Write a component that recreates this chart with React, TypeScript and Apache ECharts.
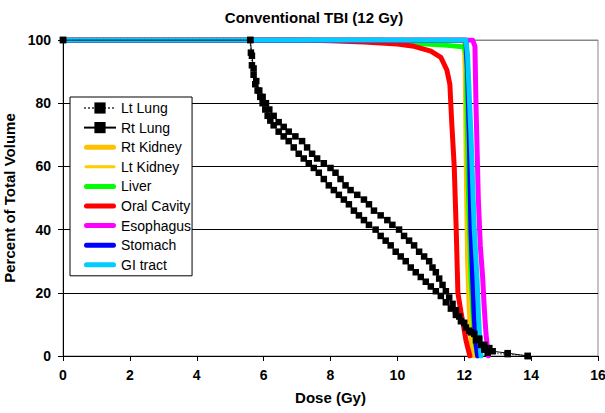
import React, { useEffect, useRef } from "react";
import * as echarts from "echarts";

const TITLE = "Conventional TBI (12 Gy)";
const X_NAME = "Dose (Gy)";
const Y_NAME = "Percent of Total Volume";

const ltLung: number[][] = [
  [0, 100], [5.6, 100], [5.62, 96], [5.65, 92], [5.7, 89], [5.75, 86], [5.82, 84], [5.9, 82],
  [5.97, 80], [6.05, 78], [6.12, 76], [6.2, 74.5], [6.3, 73], [6.45, 71], [6.6, 69.5],
  [6.75, 68], [6.9, 66], [7.05, 64], [7.2, 62.5], [7.35, 61], [7.5, 59.5], [7.65, 58],
  [7.8, 56], [7.95, 54], [8.1, 52.5], [8.25, 51], [8.4, 49.5], [8.55, 48], [8.7, 46],
  [8.85, 44.5], [9.0, 43], [9.15, 41.5], [9.35, 40], [9.5, 38], [9.65, 36.5], [9.8, 35],
  [9.95, 33], [10.1, 31.5], [10.25, 30], [10.4, 28], [10.55, 26.5], [10.7, 25], [10.85, 23.5],
  [11.0, 22], [11.15, 20.5], [11.3, 19], [11.45, 17], [11.6, 15], [11.75, 13], [11.9, 11],
  [12.05, 9], [12.2, 7.5], [12.35, 5], [12.5, 3.5], [12.6, 2], [12.7, 1], [13.3, 0.6], [13.9, 0],
];

const rtLung: number[][] = [
  [0, 100], [5.6, 100], [5.65, 95], [5.7, 91], [5.78, 87], [5.87, 84], [5.97, 82], [6.07, 80],
  [6.17, 78], [6.3, 76], [6.45, 74], [6.6, 72.5], [6.75, 71], [6.95, 69.5], [7.15, 68],
  [7.3, 66], [7.45, 64], [7.6, 62.5], [7.8, 61], [8.0, 59.5], [8.15, 58], [8.3, 56],
  [8.45, 54], [8.6, 52.5], [8.8, 51], [9.0, 49.5], [9.15, 48], [9.3, 46], [9.5, 44.5],
  [9.7, 43], [9.85, 41.5], [10.05, 40], [10.2, 38], [10.35, 36.5], [10.5, 35], [10.65, 33],
  [10.8, 31.5], [10.95, 30], [11.05, 28], [11.15, 26.5], [11.25, 24.5], [11.35, 22.5],
  [11.45, 20.5], [11.55, 18.5], [11.65, 16.5], [11.75, 14.5], [11.85, 12.5], [12.0, 10.5],
  [12.15, 8], [12.3, 7], [12.45, 5.5], [12.6, 3.5], [12.75, 2.5], [12.85, 1.5], [13.3, 0.9], [13.9, 0],
];

const rtKidney: number[][] = [
  [0, 100], [12.0, 100], [12.03, 90], [12.06, 60], [12.1, 30], [12.15, 15], [12.2, 6], [12.25, 1.5], [12.28, 0],
];
const ltKidney: number[][] = [
  [0, 100], [12.0, 100], [12.03, 90], [12.07, 60], [12.12, 30], [12.17, 15], [12.22, 6], [12.27, 1.5], [12.3, 0],
];
const liver: number[][] = [
  [0, 100], [9.5, 100], [10.5, 99], [11.5, 98.3], [12.0, 97.8], [12.06, 95], [12.08, 80],
  [12.13, 50], [12.2, 25], [12.28, 10], [12.35, 3], [12.4, 0],
];
const oralCavity: number[][] = [
  [0, 100], [7, 100], [8, 99.8], [9, 99.4], [10, 98.7], [10.5, 98], [11.0, 96.5], [11.3, 94.5],
  [11.48, 90.5], [11.57, 86], [11.62, 75], [11.7, 60], [11.76, 40], [11.81, 20], [11.9, 14],
  [11.97, 10], [12.05, 5], [12.12, 2], [12.17, 0],
];
const esophagus: number[][] = [
  [0, 100], [12.25, 100], [12.32, 98], [12.35, 80], [12.42, 50], [12.48, 35], [12.55, 25],
  [12.6, 15], [12.65, 7], [12.7, 2], [12.72, 0],
];
const stomach: number[][] = [
  [0, 100], [12.05, 100], [12.1, 90], [12.15, 70], [12.2, 40], [12.25, 25], [12.3, 12], [12.35, 4], [12.4, 0],
];
const giTract: number[][] = [
  [0, 100], [12.05, 100], [12.1, 95], [12.2, 70], [12.3, 40], [12.38, 25], [12.43, 12], [12.47, 4], [12.5, 0],
];

const FONT = "Arial, 'Liberation Sans', Helvetica, sans-serif";
const BAR_ICON =
  "path://M0,0M32,14M2.5,4.5L29.5,4.5A2.5,2.5,0,0,1,29.5,9.5L2.5,9.5A2.5,2.5,0,0,1,2.5,4.5Z";
const THIN_ICON =
  "path://M0,0M32,14M2,5.5L30,5.5A1.5,1.5,0,0,1,30,8.5L2,8.5A1.5,1.5,0,0,1,2,5.5Z";

export default function App() {
  const ref = useRef<HTMLDivElement>(null);
  useEffect(() => {
    if (!ref.current) return;
    const chart = echarts.init(ref.current, null, { renderer: "svg" });
    const smoothLine = (name: string, data: number[][], color: string, width: number) => ({
      name,
      type: "line",
      data,
      showSymbol: false,
      symbol: "none",
      lineStyle: { color, width, cap: "round", join: "round" },
      itemStyle: { color },
      z: 2,
    });
    const lung = (name: string, data: number[][], lineColor: string, type: string, width: number) => ({
      name,
      type: "line",
      data,
      symbol: "rect",
      symbolSize: 6.5,
      showSymbol: true,
      lineStyle: { color: lineColor, width, type },
      itemStyle: { color: "#000", borderWidth: 0 },
      z: 4,
    });
    chart.setOption({
      animation: false,
      textStyle: { fontFamily: FONT },
      title: {
        text: TITLE,
        left: 309,
        textAlign: "center",
        top: 5,
        textStyle: { fontFamily: FONT, fontSize: 15, fontWeight: "bold", color: "#000" },
      },
      grid: {
        left: 63,
        right: 7,
        top: 40,
        bottom: 57,
        containLabel: false,
        outerBoundsMode: "none",
        show: true,
        borderColor: "#888",
        borderWidth: 1,
        backgroundColor: "#fff",
      },
      legend: {
        orient: "vertical",
        left: 70,
        top: 97,
        padding: [4, 1, 4, 13],
        itemWidth: 32,
        itemHeight: 14,
        itemGap: 5.6,
        backgroundColor: "#fff",
        borderColor: "#000",
        borderWidth: 1,
        borderRadius: 0,
        textStyle: { fontFamily: FONT, fontSize: 14, color: "#000", lineHeight: 14 },
        data: [
          { name: "Lt Lung" },
          { name: "Rt Lung" },
          { name: "Rt Kidney", icon: BAR_ICON },
          { name: "Lt Kidney", icon: THIN_ICON },
          { name: "Liver", icon: BAR_ICON },
          { name: "Oral Cavity", icon: BAR_ICON },
          { name: "Esophagus", icon: BAR_ICON },
          { name: "Stomach", icon: BAR_ICON },
          { name: "GI tract", icon: BAR_ICON },
        ],
      },
      xAxis: {
        type: "value",
        min: 0,
        max: 16,
        interval: 2,
        name: X_NAME,
        nameLocation: "middle",
        nameGap: 34,
        nameTextStyle: { fontFamily: FONT, fontSize: 15, fontWeight: "bold", color: "#000" },
        axisLine: { show: true, onZero: false, lineStyle: { color: "#000", width: 1 } },
        axisTick: { show: true, inside: false, length: 5, lineStyle: { color: "#000" } },
        axisLabel: { fontFamily: FONT, fontSize: 14, fontWeight: "bold", color: "#000", margin: 12 },
        splitLine: { show: false },
      },
      yAxis: {
        type: "value",
        min: 0,
        max: 100,
        interval: 20,
        name: Y_NAME,
        nameLocation: "middle",
        nameGap: 35,
        nameTextStyle: { fontFamily: FONT, fontSize: 15, fontWeight: "bold", color: "#000" },
        axisLine: { show: true, onZero: false, lineStyle: { color: "#000", width: 1 } },
        axisTick: { show: true, inside: false, length: 5, lineStyle: { color: "#000" } },
        axisLabel: { fontFamily: FONT, fontSize: 14, fontWeight: "bold", color: "#000", margin: 12 },
        splitLine: {
          show: true,
          lineStyle: { color: ["#000", "#000", "#000", "#000", "#000", "#888"], width: 1 },
        },
      },
      series: [
        lung("Lt Lung", ltLung, "#666", "dotted", 1.5),
        lung("Rt Lung", rtLung, "#000", "solid", 1),
        smoothLine("Rt Kidney", rtKidney, "#FFC000", 5),
        smoothLine("Lt Kidney", ltKidney, "#FFCC00", 3),
        smoothLine("Liver", liver, "#00FF00", 5),
        smoothLine("Oral Cavity", oralCavity, "#FF0000", 5),
        smoothLine("Esophagus", esophagus, "#FF00FF", 5),
        smoothLine("Stomach", stomach, "#0000FF", 5),
        smoothLine("GI tract", giTract, "#00CCFF", 5),
      ],
    });
    return () => chart.dispose();
  }, []);
  return (
    <div
      ref={ref}
      style={{ position: "absolute", left: 0, top: 0, width: 605, height: 413, background: "#fff" }}
    />
  );
}
